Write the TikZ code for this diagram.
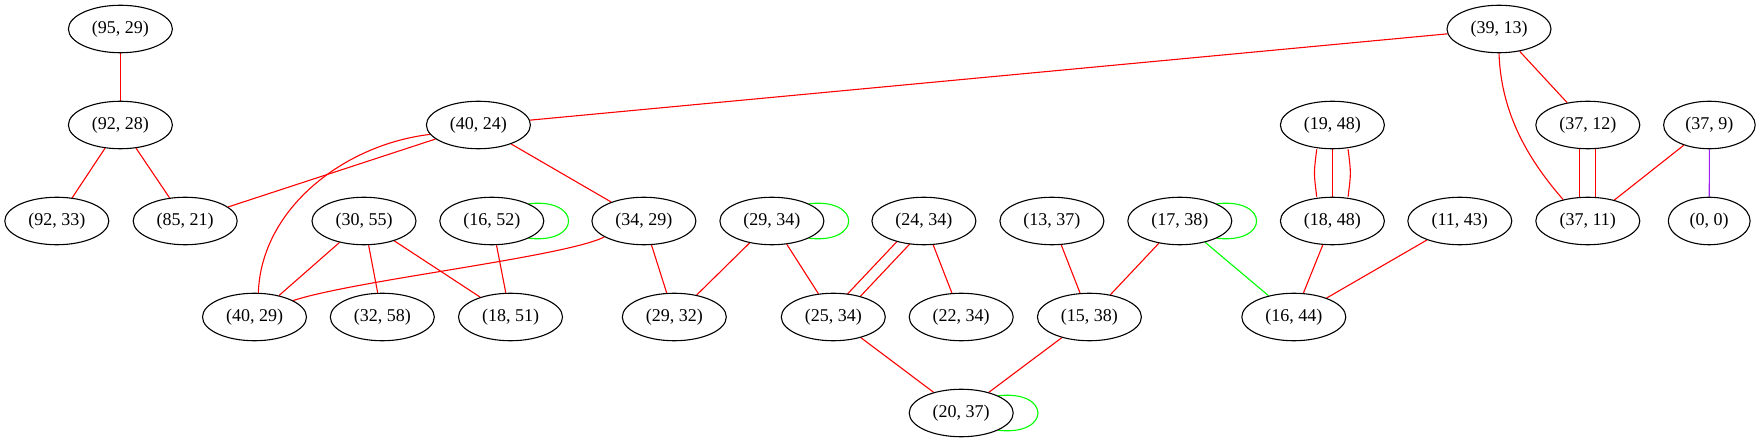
\documentclass[tikz,border=0pt]{standalone}
\usepackage{fontspec}
\setmainfont{Liberation Serif}
\usetikzlibrary{shapes.geometric,calc,backgrounds}
\definecolor{vred}{RGB}{255,0,0}
\definecolor{vgreen}{RGB}{0,255,0}
\definecolor{vpurple}{RGB}{160,32,240}
\begin{document}
\begin{tikzpicture}[x=1pt,y=-1pt,
  vtx/.style={draw,ellipse,fill=white,line width=1.1pt,minimum width=104pt,minimum height=47.5pt,inner sep=0pt,font=\fontsize{18}{21}\selectfont},
  re/.style={draw=vred,line width=1.1pt},
  ge/.style={draw=vgreen,line width=1.1pt},
  pe/.style={draw=vpurple,line width=1.1pt}]
\useasboundingbox (0,0) rectangle (1761,443);
% row 1
\node[vtx] (n9529) at (120.4,29) {(95, 29)};
\node[vtx] (n3913) at (1499,29) {(39, 13)};
% row 2
\node[vtx] (n9228) at (120.4,125) {(92, 28)};
\node[vtx] (n4024) at (478.4,125) {(40, 24)};
\node[vtx] (n1948) at (1332.4,125) {(19, 48)};
\node[vtx] (n3712) at (1587.8,125) {(37, 12)};
\node[vtx,minimum width=91.6pt] (n379) at (1709.4,125) {(37, 9)};
% row 3
\node[vtx] (n9233) at (56.8,221) {(92, 33)};
\node[vtx] (n8521) at (185.2,221) {(85, 21)};
\node[vtx] (n3055) at (364,221) {(30, 55)};
\node[vtx] (n1652) at (491.8,221) {(16, 52)};
\node[vtx] (n3429) at (643.9,221) {(34, 29)};
\node[vtx] (n2934) at (771.9,221) {(29, 34)};
\node[vtx] (n2434) at (923.9,221) {(24, 34)};
\node[vtx] (n1337) at (1051.9,221) {(13, 37)};
\node[vtx] (n1738) at (1179.8,221) {(17, 38)};
\node[vtx] (n1848) at (1332.4,221) {(18, 48)};
\node[vtx] (n1143) at (1459.8,221) {(11, 43)};
\node[vtx] (n3711) at (1587.8,221) {(37, 11)};
\node[vtx,minimum width=81.8pt] (n00) at (1709.2,221) {(0, 0)};
% row 4
\node[vtx] (n4029) at (254.5,317) {(40, 29)};
\node[vtx] (n3258) at (382.3,317) {(32, 58)};
\node[vtx] (n1851) at (510.5,317) {(18, 51)};
\node[vtx] (n2932) at (674.3,317) {(29, 32)};
\node[vtx] (n2534) at (833.3,317) {(25, 34)};
\node[vtx] (n2234) at (961.2,317) {(22, 34)};
\node[vtx] (n1538) at (1089.4,317) {(15, 38)};
\node[vtx] (n1644) at (1293.8,317) {(16, 44)};
% row 5
\node[vtx] (n2037) at (961.2,413) {(20, 37)};

\begin{pgfonlayer}{background}
\draw[re] (n9529) -- (n9228);
\draw[re] (n9228) -- (n9233);
\draw[re] (n9228) -- (n8521);
\draw[re] (n4024) -- (n8521);
\draw[re] (n4024.191) .. controls +(-85,10) and +(3,-85) .. (n4029.81);
\draw[re] (n4024) -- (n3429);
\draw[re] (n3913) -- (n4024);
\draw[re] (n3913) -- (n3712);
\draw[re] (n3913.south) .. controls +(2,60) and +(-35,-40) .. (n3711.139);
\draw[re] ([xshift=-8pt]n3712.south) -- ([xshift=-8pt]n3711.north);
\draw[re] ([xshift=8pt]n3712.south) -- ([xshift=8pt]n3711.north);
\draw[re] (n379) -- (n3711);
\draw[pe] (n379) -- (n00);
\draw[re] (n1948) -- (n1848);
\draw[re] ([xshift=-15.7pt]n1948.south) .. controls +(-3,25) and +(-3,-25) .. ([xshift=-15.7pt]n1848.north);
\draw[re] ([xshift=15.7pt]n1948.south) .. controls +(3,25) and +(3,-25) .. ([xshift=15.7pt]n1848.north);
\draw[re] (n3055) -- (n4029);
\draw[re] (n3055) -- (n3258);
\draw[re] (n3055) -- (n1851);
\draw[ge] (n1652.25) .. controls +(53,-6) and +(53,6) .. (n1652.-25);
\draw[re] (n1652) -- (n1851);
\draw[re] (n3429.202) .. controls +(-40,20) and +(60,-20) .. (n4029.23);
\draw[re] (n3429) -- (n2932);
\draw[ge] (n2934.25) .. controls +(53,-6) and +(53,6) .. (n2934.-25);
\draw[re] (n2934) -- (n2932);
\draw[re] (n2934) -- (n2534);
\draw[re] ($(n2434)!5.5pt!90:(n2534)$) -- ($(n2534)!5.5pt!-90:(n2434)$);
\draw[re] ($(n2434)!5.5pt!-90:(n2534)$) -- ($(n2534)!5.5pt!90:(n2434)$);
\draw[re] (n2434) -- (n2234);
\draw[re] (n1337) -- (n1538);
\draw[ge] (n1738.25) .. controls +(53,-6) and +(53,6) .. (n1738.-25);
\draw[re] (n1738) -- (n1538);
\draw[ge] (n1738) -- (n1644);
\draw[re] (n1848) -- (n1644);
\draw[re] (n1143) -- (n1644);
\draw[re] (n2534) -- (n2037);
\draw[re] (n1538) -- (n2037);
\draw[ge] (n2037.25) .. controls +(53,-6) and +(53,6) .. (n2037.-25);
\end{pgfonlayer}
\end{tikzpicture}
\end{document}
